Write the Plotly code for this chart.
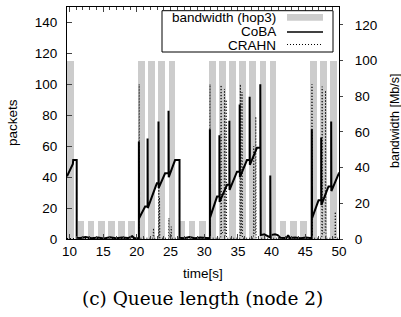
import plotly.graph_objects as go

# ---------------- data ----------------
bar_time = [10.2, 11.7, 13.2, 14.7, 16.2, 17.7, 19.2, 20.7, 22.2, 23.7, 25.2, 26.7, 28.2, 29.7,
            31.2, 32.7, 34.2, 35.7, 37.2, 38.7, 40.2, 41.7, 43.2, 44.7, 46.2, 47.7, 49.2]
bandwidth = [100, 10, 10, 10, 10, 10, 10, 100, 100, 100, 100, 10, 10, 10,
             100, 100, 100, 100, 100, 100, 100, 10, 10, 10, 100, 100, 100]

coba_time = [9.63, 10.50, 10.55, 11.07, 11.07, 11.60, 12.40, 13.30, 14.20, 15.10, 16.00, 16.90,
             17.80, 18.70, 19.30, 19.60, 20.30, 20.30, 20.33, 21.23, 21.59, 21.59, 21.62, 22.96,
             23.21, 23.21, 23.24, 24.19, 24.70, 24.70, 24.73, 25.67, 26.33, 26.33, 27.00, 27.80,
             28.60, 29.40, 30.20, 30.84, 30.84, 30.87, 31.90, 32.25, 32.25, 32.28, 33.38, 33.73,
             33.73, 33.76, 34.86, 35.26, 35.26, 35.29, 36.34, 36.74, 36.74, 36.77, 37.82, 38.32,
             38.32, 38.38, 38.90, 39.30, 39.80, 39.80, 39.83, 40.50, 40.90, 41.30, 42.20, 42.45,
             42.70, 43.50, 44.30, 45.10, 45.97, 45.97, 46.00, 46.96, 47.36, 47.36, 47.39, 48.44,
             48.84, 48.84, 48.87, 49.97, 50.00]
coba_queue = [40.5, 48.5, 51.0, 51.0, 0.8, 0.6, 1.2, 0.5, 1.0, 0.4, 1.1, 0.5,
              1.0, 0.6, 1.8, 0.6, 0.5, 63.0, 13.4, 21.0, 21.0, 65.0, 20.0, 36.0,
              36.0, 76.0, 33.0, 42.5, 42.5, 83.0, 40.0, 51.0, 51.0, 0.8, 0.5, 1.2,
              0.5, 1.0, 0.6, 0.5, 71.0, 14.0, 27.4, 27.4, 67.0, 24.0, 35.0, 35.0,
              76.5, 31.7, 43.5, 43.5, 87.0, 40.0, 51.0, 51.0, 92.0, 48.0, 59.0, 59.0,
              100.0, 2.5, 3.0, 2.0, 1.0, 41.0, 2.5, 3.0, 2.5, 0.8, 0.6, 2.5,
              0.6, 1.0, 0.5, 1.0, 0.5, 71.0, 13.4, 25.0, 25.0, 65.7, 22.0, 34.0,
              34.0, 76.0, 31.0, 42.5, 43.0]

crahn_time = [9.63, 20.30, 20.34, 20.38, 22.40, 22.47, 22.55, 23.22, 23.26, 23.30, 23.36, 23.42,
              24.72, 24.76, 24.80, 25.05, 25.10, 25.15, 30.80, 30.86, 30.90, 32.45, 32.50, 32.55,
              32.95, 33.00, 33.06, 33.20, 33.25, 33.30, 35.30, 35.36, 35.42, 35.55, 35.60, 35.66,
              37.30, 37.35, 37.40, 37.60, 37.65, 37.70, 45.93, 45.99, 46.04, 47.45, 47.50, 47.55,
              47.95, 48.00, 48.06, 49.40, 49.45, 49.50, 50.00]
crahn_queue = [0.3, 0.3, 100, 0.5, 0.5, 7, 0.5, 0.5, 34, 0.5, 27, 0.5,
               0.5, 13.5, 0.5, 0.5, 8, 0.5, 0.5, 100, 0.5, 0.5, 99.5, 3,
               6, 97, 2, 4, 90, 0.5, 0.5, 100, 2, 5, 95, 0.5,
               0.5, 60, 3, 4, 79, 0.5, 0.5, 100, 0.5, 0.5, 98.5, 3,
               5, 96, 0.5, 0.5, 17.6, 0.5, 0.5]

x_ticks = [10, 15, 20, 25, 30, 35, 40, 45, 50]
packet_ticks = [0, 20, 40, 60, 80, 100, 120, 140]
bw_ticks = [0, 20, 40, 60, 80, 100, 120]

# ---------------- layout geometry (pixels) ----------------
W, H = 401, 317
L, R, T, B = 67, 339, 7, 239
PW, PH = R - L, B - T


def xp(px):
    return (px - L) / PW


def yp(py):
    return (B - py) / PH


SANS = "Liberation Sans, Arial, Helvetica, sans-serif"
FS = 13.5
DOT = "1px,2px"

fig = go.Figure()
fig.add_trace(go.Bar(x=bar_time, y=bandwidth, width=1.0, yaxis="y",
                     marker=dict(color="#cccccc", line=dict(width=0)),
                     name="bandwidth (hop3)", showlegend=False))
fig.add_trace(go.Scatter(x=coba_time, y=coba_queue, yaxis="y2", mode="lines",
                         line=dict(color="black", width=2), name="CoBA", showlegend=False))
fig.add_trace(go.Scatter(x=crahn_time, y=crahn_queue, yaxis="y2", mode="lines",
                         line=dict(color="black", width=1, dash=DOT), name="CRAHN",
                         showlegend=False))

fig.update_layout(
    width=W, height=H, autosize=False,
    margin=dict(l=L, r=W - R, t=T, b=H - B, pad=0),
    paper_bgcolor="white", plot_bgcolor="white",
    font=dict(family=SANS, size=FS, color="black"),
    bargap=0,
    xaxis=dict(range=[9.63, 50], tickvals=x_ticks, ticks="inside", ticklen=5,
               showline=True, linecolor="black", linewidth=1, mirror="ticks",
               showgrid=False, zeroline=False, tickfont=dict(size=FS),
               minor=dict(dtick=1, ticks="inside", ticklen=3, showgrid=False)),
    yaxis=dict(range=[0, 130], tickvals=bw_ticks, side="right", ticks="outside",
               ticklen=3, showline=False, showgrid=False, zeroline=False,
               tickfont=dict(size=FS), ticklabelstandoff=9),
    yaxis2=dict(range=[0, 150], tickvals=packet_ticks, side="left", overlaying="y",
                ticks="inside", ticklen=5, showline=True, linecolor="black", linewidth=1,
                mirror=True, showgrid=False, zeroline=False, tickfont=dict(size=FS),
                ticklabelstandoff=6),
)

ann = [
    dict(text="packets", x=xp(12), y=yp(123), textangle=-90),
    dict(text="bandwidth [Mb/s]", x=xp(395), y=yp(121), textangle=-90,
         font=dict(family=SANS, size=12.5, color="black")),
    dict(text="time[s]", x=xp(203), y=yp(273)),
    dict(text="(c) Queue length (node 2)", x=xp(202), y=yp(298),
         font=dict(family="DejaVu Serif, serif", size=18.5, color="black")),
    dict(text="bandwidth (hop3)", x=xp(278), y=yp(17), xanchor="right"),
    dict(text="CoBA", x=xp(278), y=yp(31.5), xanchor="right"),
    dict(text="CRAHN", x=xp(278), y=yp(45), xanchor="right"),
]
for a in ann:
    base = dict(xref="paper", yref="paper", showarrow=False, xanchor="center",
                yanchor="middle", font=dict(family=SANS, size=FS, color="black"))
    base.update(a)
    fig.add_annotation(**base)

shapes = [
    dict(type="rect", x0=xp(162), x1=xp(333), y0=yp(52), y1=yp(10.7),
         line=dict(color="black", width=1), fillcolor="white", layer="above"),
    dict(type="rect", x0=xp(287), x1=xp(323), y0=yp(20.7), y1=yp(14),
         line=dict(width=0), fillcolor="#cccccc", layer="above"),
    dict(type="line", x0=xp(287), x1=xp(323), y0=yp(32), y1=yp(32),
         line=dict(color="black", width=1.5), layer="above"),
    dict(type="line", x0=xp(287), x1=xp(323), y0=yp(44.5), y1=yp(44.5),
         line=dict(color="black", width=1, dash=DOT), layer="above"),
]
for s in shapes:
    fig.add_shape(xref="paper", yref="paper", **s)

fig.write_html("out.html", config={"displayModeBar": False},
               post_script="document.body.style.margin='0';document.body.style.overflow='hidden';")
